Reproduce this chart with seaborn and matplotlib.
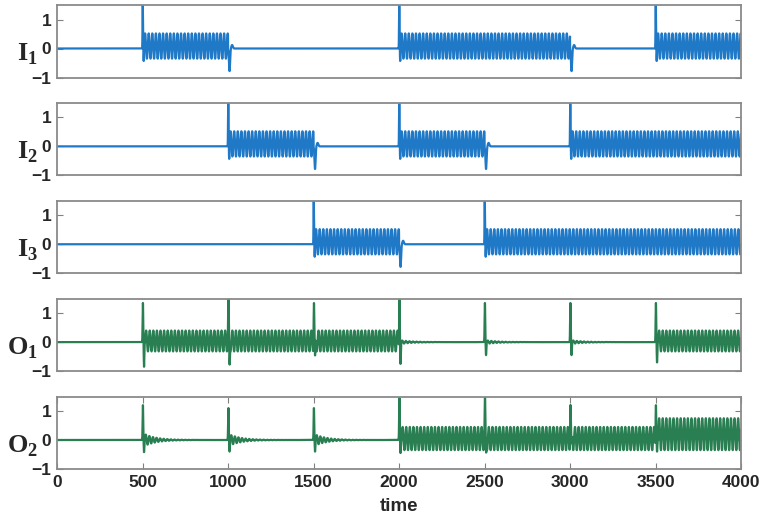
import numpy as np
import pandas as pd
import matplotlib
matplotlib.use("Agg")
import matplotlib.pyplot as plt
import seaborn as sns

# time axis and oscillation period
T_END = 4000
OSC_PERIOD = 21.0
EVENT_TIMES = [500, 1000, 1500, 2000, 2500, 3000, 3500]

# input channels: intervals where the oscillation is switched on
I1_ON = [(500, 1000), (2000, 3000), (3500, 4000)]
I2_ON = [(1000, 1500), (2000, 2500), (3000, 4000)]
I3_ON = [(1500, 2000), (2500, 4000)]
I_OSC_HI = 0.52
I_OSC_LO = -0.35
I_ONSET_PEAK = 1.5
I_ONSET_DIP = -0.43
I_OFFSET_DIP = -0.78

# output channels
O1_ON = [(500, 2000), (3500, 4000)]
O1_OSC_HI = [0.40, 0.40]
O1_OSC_LO = [-0.32, -0.32]
O1_PEAKS = [1.35, 1.35, 1.35, 1.5, 1.35, 1.35, 1.35]
O1_DIPS = [-0.85, -0.85, -0.85, -0.75, -0.45, -0.45, -0.7]
O1_TAILS = [0.0, 0.0, 0.0, 0.06, 0.06, 0.06, 0.0]

O2_ON = [(2000, 3500), (3500, 4000)]
O2_OSC_HI = [0.45, 0.75]
O2_OSC_LO = [-0.35, -0.35]
O2_PEAKS = [1.2, 1.1, 1.1, 1.45, 1.2, 1.2, 1.2]
O2_DIPS = [-0.42, -0.4, -0.4, -0.45, -0.5, -0.55, -0.4]
O2_TAILS = [0.2, 0.18, 0.18, 0.0, 0.0, 0.0, 0.0]

LABELS = [r"$\mathbf{I}_{\mathbf{1}}$", r"$\mathbf{I}_{\mathbf{2}}$", r"$\mathbf{I}_{\mathbf{3}}$",
          r"$\mathbf{O}_{\mathbf{1}}$", r"$\mathbf{O}_{\mathbf{2}}$"]
BLUE = "#2079c7"
GREEN = "#2a7f52"

t = np.arange(0, T_END + 0.25, 0.25)


def pulse(t0, height, centre, width):
    return height * np.exp(-(((t - t0 - centre) / width) ** 2))


def oscillation(a, b, hi, lo, delay=10):
    mid = (hi + lo) / 2
    amp = (hi - lo) / 2
    on = (t >= a + delay) & (t <= b)
    return np.where(on, mid + amp * np.sin(2 * np.pi * (t - a - delay) / OSC_PERIOD), 0.0)


def input_signal(intervals):
    y = np.zeros_like(t)
    for a, b in intervals:
        y += oscillation(a, b, I_OSC_HI, I_OSC_LO)
        y += pulse(a, I_ONSET_PEAK, 1.5, 1.8) + pulse(a, I_ONSET_DIP, 7, 2.0)
        if b < T_END:
            y += pulse(b, I_OFFSET_DIP, 9, 4.5) + pulse(b, 0.12, 24, 6.0)
    return y


def output_signal(intervals, hi, lo, peaks, dips, tails):
    y = np.zeros_like(t)
    for (a, b), h, l in zip(intervals, hi, lo):
        y += oscillation(a, b, h, l, delay=16)
    for t0, p, d, tail in zip(EVENT_TIMES, peaks, dips, tails):
        y += pulse(t0, p, 2.5, 2.4) + pulse(t0, d, 9, 2.4)
        after = t >= t0 + 14
        decay = np.exp(-np.clip(t - t0 - 14, 0, None) / 70)
        y += np.where(after, tail * decay * np.sin(2 * np.pi * (t - t0 - 14) / OSC_PERIOD), 0.0)
    return y


series = [
    input_signal(I1_ON),
    input_signal(I2_ON),
    input_signal(I3_ON),
    output_signal(O1_ON, O1_OSC_HI, O1_OSC_LO, O1_PEAKS, O1_DIPS, O1_TAILS),
    output_signal(O2_ON, O2_OSC_HI, O2_OSC_LO, O2_PEAKS, O2_DIPS, O2_TAILS),
]
colors = [BLUE, BLUE, BLUE, GREEN, GREEN]

sns.set_style("white")
plt.rcParams["font.family"] = ["Liberation Sans", "DejaVu Sans"]
plt.rcParams["font.weight"] = "bold"
plt.rcParams["mathtext.fontset"] = "custom"
plt.rcParams["mathtext.bf"] = "Liberation Serif:bold"
plt.rcParams["mathtext.rm"] = "Liberation Serif"

fig, axes = plt.subplots(5, 1, figsize=(7.68, 5.18), dpi=100)
fig.subplots_adjust(left=57 / 768, right=741 / 768, top=1 - 5 / 518, bottom=1 - 469 / 518, hspace=0.35)

for i, (ax, y, c, lab) in enumerate(zip(axes, series, colors, LABELS)):
    df = pd.DataFrame({"time": t, "value": y})
    sns.lineplot(data=df, x="time", y="value", ax=ax, color=c, linewidth=1.6,
                 estimator=None, sort=False)
    ax.set_xlim(0, T_END)
    ax.set_ylim(-1, 1.5)
    ax.set_yticks([-1, 0, 1])
    ax.set_yticklabels(["\u22121", "0", "1"])
    ax.tick_params(axis="both", direction="in", length=4, color="#808080",
                   labelsize=12.5, pad=4, right=True, top=True, left=True, bottom=True)
    for lbl in ax.get_yticklabels() + ax.get_xticklabels():
        lbl.set_fontweight("bold")
    for sp in ax.spines.values():
        sp.set_color("#8a8a8a")
        sp.set_linewidth(1.3)
    ax.set_ylabel(lab, rotation=0, fontsize=19, ha="right", va="bottom")
    ax.yaxis.set_label_coords(-0.028, 0.14)
    if i < 4:
        ax.set_xticks([])
        ax.set_xlabel("")
    else:
        ax.set_xticks(np.arange(0, T_END + 1, 500))
        ax.set_xlabel("time", fontsize=13.5, fontweight="bold", labelpad=6)

fig.savefig("out.png", dpi=100)
